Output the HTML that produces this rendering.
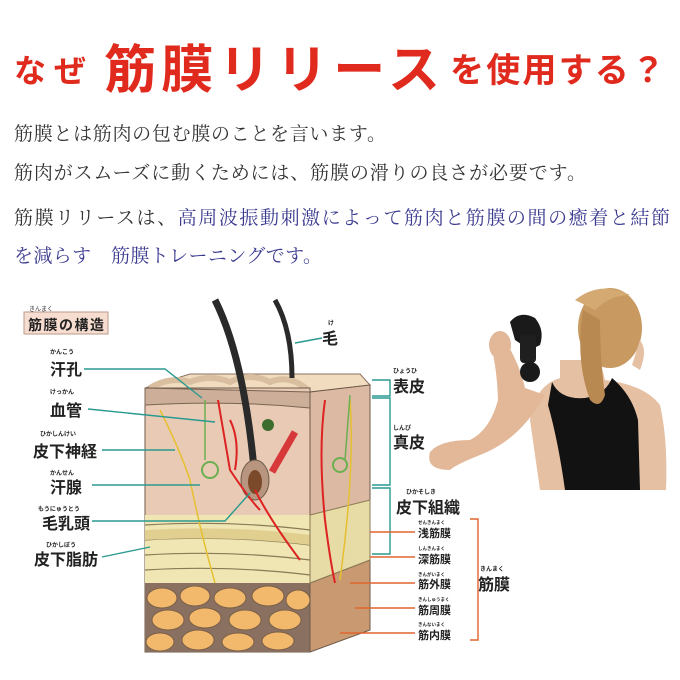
<!DOCTYPE html>
<html><head><meta charset="utf-8"><style>
html,body{margin:0;padding:0;background:#fff;width:680px;height:680px;overflow:hidden}
svg{display:block}
.s{font-family:"Liberation Serif","Noto Serif CJK SC",serif}
.g{font-family:"Liberation Sans","Noto Sans CJK JP",sans-serif}
</style></head><body>
<svg width="680" height="680" viewBox="0 0 680 680" xmlns="http://www.w3.org/2000/svg">
<!-- title -->
<g class="g" fill="#e02a1e" font-weight="bold">
<text x="14" y="82" font-size="32" textLength="72">なぜ</text>
<text x="104" y="88" font-size="52" textLength="336">筋膜リリース</text>
<text x="450" y="82" font-size="34" textLength="215">を使用する？</text>
</g>
<!-- body -->
<g class="s" font-size="19" fill="#333">
<text x="14" y="140" textLength="372">筋膜とは筋肉の包む膜のことを言います。</text>
<text x="14" y="179" textLength="572">筋肉がスムーズに動くためには、筋膜の滑りの良さが必要です。</text>
<text x="14" y="224" textLength="656">筋膜リリースは、<tspan fill="#3b3b90">高周波振動刺激によって筋肉と筋膜の間の癒着と結節</tspan></text>
<text x="14" y="262" fill="#3b3b90" textLength="308">を減らす　筋膜トレーニングです。</text>
</g>
<!-- label box -->
<rect x="24" y="312" width="84" height="22" fill="#f6ddd0" stroke="#b89a8a"/>
<text class="g" x="29" y="311" font-size="6" fill="#333">きんまく</text>
<text class="g" x="28" y="330" font-size="14" fill="#222" font-weight="bold" textLength="76">筋膜の構造</text>
<!-- block: top -->
<path d="M145 388 L190 374 L360 374 L370 385 L310 392 Z" fill="#f2dcc0" stroke="#8a7060"/>
<path d="M150 388 q20-12 40-6 q20-8 40 0 q20-10 40 0 q20-8 38 8" fill="none" stroke="#d9bfa0" stroke-width="6"/>
<!-- front face -->
<rect x="145" y="388" width="165" height="264" fill="#e9cab4" stroke="#6d5a4a"/>
<path d="M145 388 L310 392 L310 408 Q230 400 145 405 Z" fill="#cdae98" stroke="#7a6454"/>
<rect x="145" y="515" width="165" height="68" fill="#efe6b4"/>
<path d="M145 525 Q230 520 310 530 M145 540 Q230 535 310 545 M145 555 Q230 550 310 560 M145 570 Q230 565 310 575" stroke="#8a7a55" fill="none" stroke-width="1.2"/>
<path d="M145 530 Q230 525 310 535 L310 545 Q230 535 145 540Z" fill="#e0cf8f"/>
<rect x="145" y="583" width="165" height="69" fill="#8a7060"/>
<g fill="#f2b96d" stroke="#7a5f48">
<ellipse cx="162" cy="598" rx="15" ry="10"/><ellipse cx="195" cy="596" rx="15" ry="10"/><ellipse cx="230" cy="598" rx="16" ry="10"/><ellipse cx="268" cy="596" rx="16" ry="10"/><ellipse cx="298" cy="600" rx="12" ry="10"/>
<ellipse cx="168" cy="620" rx="16" ry="10"/><ellipse cx="205" cy="618" rx="16" ry="10"/><ellipse cx="245" cy="620" rx="16" ry="10"/><ellipse cx="285" cy="620" rx="16" ry="10"/>
<ellipse cx="160" cy="642" rx="14" ry="9"/><ellipse cx="198" cy="640" rx="16" ry="10"/><ellipse cx="238" cy="642" rx="16" ry="9"/><ellipse cx="278" cy="641" rx="16" ry="9"/>
</g>
<!-- side face -->
<path d="M310 392 L370 385 L370 515 L310 583 Z" fill="#dcb9a3" stroke="#6d5a4a"/>
<path d="M310 583 L370 560 L370 630 L310 652 Z" fill="#c99a72" stroke="#6d5a4a"/>
<path d="M310 515 L370 500 L370 560 L310 583 Z" fill="#e7dba6" stroke="#8a7a55"/>
<!-- hair, vessels -->
<path d="M215 300 Q245 360 255 480" stroke="#2a2a2a" stroke-width="7" fill="none"/>
<path d="M275 300 Q292 330 292 378" stroke="#2a2a2a" stroke-width="5" fill="none"/>
<ellipse cx="255" cy="480" rx="14" ry="20" fill="#b8957f" stroke="#6d5a4a"/>
<ellipse cx="255" cy="482" rx="7" ry="12" fill="#7a4a2a"/>
<path d="M272 472 L295 432" stroke="#d7383a" stroke-width="7"/>
<circle cx="268" cy="425" r="6" fill="#3d6d2e"/>
<path d="M218 400 Q225 440 230 470 Q250 500 260 510 M230 420 Q240 440 235 470 M255 490 Q270 520 300 560 M325 400 Q318 450 325 520 Q330 560 335 583" stroke="#d22" stroke-width="2" fill="none"/>
<path d="M160 410 Q180 450 190 480 Q200 530 215 583 M350 400 Q355 470 340 580" stroke="#e5c030" stroke-width="1.5" fill="none"/>
<path d="M205 400 L205 460 M350 395 L345 460" stroke="#6bb050" stroke-width="1.5"/>
<circle cx="210" cy="470" r="8" fill="none" stroke="#6bb050" stroke-width="2"/>
<circle cx="340" cy="465" r="7" fill="none" stroke="#6bb050" stroke-width="2"/>
<!-- left labels -->
<g stroke="#2a9a90" stroke-width="1.4" fill="none">
<path d="M84 369 L165 369 L202 398"/><path d="M88 409 L215 422"/><path d="M102 450 L175 450"/><path d="M92 485 L200 485"/><path d="M92 521 L225 521 L250 493"/><path d="M102 557 L150 547"/><path d="M295 343 L322 338"/>
</g>
<g class="g" fill="#222" font-weight="bold">
<text x="50" y="354" font-size="6">かんこう</text><text x="50" y="375" font-size="16">汗孔</text>
<text x="50" y="394" font-size="6">けっかん</text><text x="50" y="416" font-size="16">血管</text>
<text x="40" y="436" font-size="6">ひかしんけい</text><text x="33" y="457" font-size="16">皮下神経</text>
<text x="50" y="475" font-size="6">かんせん</text><text x="50" y="493" font-size="16">汗腺</text>
<text x="38" y="511" font-size="6">もうにゅうとう</text><text x="42" y="529" font-size="16">毛乳頭</text>
<text x="46" y="547" font-size="6">ひかしぼう</text><text x="34" y="565" font-size="16">皮下脂肪</text>
<text x="328" y="325" font-size="6">け</text><text x="322" y="344" font-size="16">毛</text>
<text x="393" y="373" font-size="6">ひょうひ</text><text x="393" y="392" font-size="16">表皮</text>
<text x="393" y="430" font-size="6">しんぴ</text><text x="393" y="448" font-size="16">真皮</text>
<text x="406" y="494" font-size="6">ひかそしき</text><text x="396" y="513" font-size="16">皮下組織</text>
<text x="418" y="524" font-size="4.5">せんきんまく</text><text x="418" y="537" font-size="11">浅筋膜</text>
<text x="418" y="550" font-size="4.5">しんきんまく</text><text x="418" y="563" font-size="11">深筋膜</text>
<text x="418" y="576" font-size="4.5">きんがいまく</text><text x="418" y="588" font-size="11">筋外膜</text>
<text x="418" y="601" font-size="4.5">きんしゅうまく</text><text x="418" y="614" font-size="11">筋周膜</text>
<text x="418" y="626" font-size="4.5">きんないまく</text><text x="418" y="639" font-size="11">筋内膜</text>
<text x="480" y="571" font-size="6">きんまく</text><text x="478" y="590" font-size="16">筋膜</text>
</g>
<!-- right brackets -->
<g stroke="#2a9a90" stroke-width="1.4" fill="none">
<path d="M372 380 L390 380 L390 396 L372 396"/><path d="M372 398 L390 398 L390 485 L372 485"/><path d="M372 488 L390 488 L390 554 L372 554"/>
</g>
<g stroke="#e0642e" stroke-width="1.4" fill="none">
<path d="M370 532 L415 532"/><path d="M370 557 L415 557"/><path d="M350 583 L415 583"/><path d="M355 608 L415 608"/><path d="M340 633 L415 633"/>
<path d="M470 519 L478 519 L478 640 L470 640"/>
</g>
<!-- photo approximation -->
<!-- neck/shoulders/back skin -->
<path d="M560 360 L600 360 L605 380 Q645 385 660 405 Q668 440 666 490 L540 490 L530 420 Q535 385 560 378Z" fill="#e6c0a3"/>
<!-- black top -->
<path d="M552 382 Q560 400 585 398 Q605 395 612 378 Q632 395 638 420 L640 490 L565 490 Q558 440 548 405Z" fill="#121212"/>
<!-- arm -->
<path d="M545 395 Q520 440 480 455 Q455 465 450 470 Q425 470 430 452 Q440 440 470 440 Q490 430 498 400 Q497 370 492 350 L505 340 Q520 365 525 388Z" fill="#e2b899"/>
<!-- hand -->
<ellipse cx="500" cy="345" rx="11" ry="14" fill="#e2b899"/>
<!-- head + hair -->
<ellipse cx="610" cy="328" rx="32" ry="40" fill="#c89a62"/>
<path d="M583 310 Q575 360 590 400 Q600 410 605 395 Q600 360 600 320Z" fill="#b88a52"/>
<path d="M575 300 Q600 280 630 295 Q610 295 595 310Z" fill="#d4aa72"/>
<path d="M640 340 Q648 350 640 370 L632 365Z" fill="#e6c0a3"/>
<!-- massage gun -->
<path d="M510 322 Q520 310 535 318 Q545 330 540 345 L530 350 L515 340Z" fill="#1a1a1a"/>
<rect x="520" y="335" width="16" height="28" rx="4" fill="#1f1f1f"/>
<circle cx="530" cy="372" r="10" fill="#1a1a1a"/>
</svg>
</body></html>
